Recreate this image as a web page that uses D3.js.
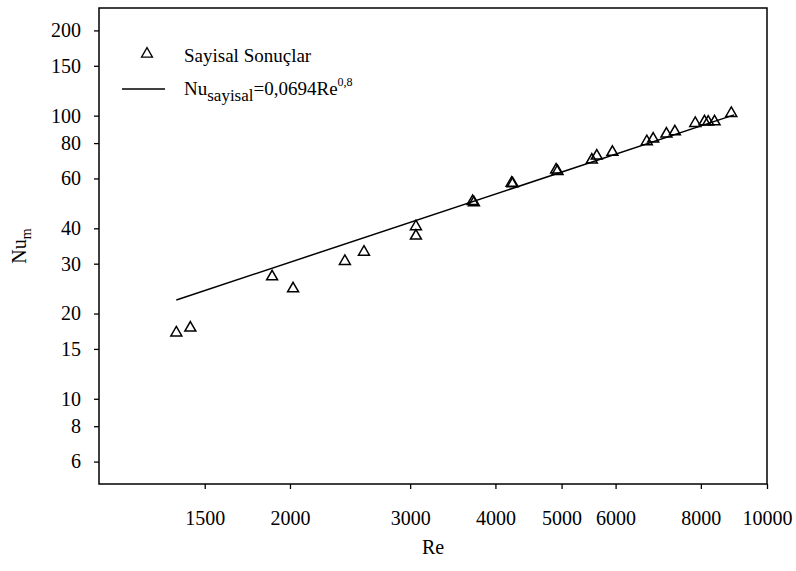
<!DOCTYPE html>
<html>
<head>
<meta charset="utf-8">
<script src="https://cdn.jsdelivr.net/npm/d3@7"></script>
<style>
  body { margin: 0; background: #fff; }
  svg text { font-family: "Liberation Serif", "Times New Roman", "DejaVu Serif", serif !important; fill: #000; }
</style>
</head>
<body>
<svg id="chart" width="796" height="571"></svg>
<script>
// Numerical results: Reynolds number and mean Nusselt number
const reValues = [1363, 1429, 1883, 2021, 2407, 2567, 3059, 3059, 3704, 3720,
                  4225, 4240, 4909, 4932, 5538, 5631, 5936, 6666, 6811, 7123,
                  7328, 7850, 8099, 8200, 8378, 8865];
const nuValues = [17.1, 17.8, 27.0, 24.5, 30.6, 33.0, 40.6, 37.6, 49.8, 49.3,
                  57.8, 57.5, 64.3, 63.6, 69.8, 72.1, 74.3, 81.0, 82.8, 86.2,
                  87.8, 94.0, 95.2, 95.0, 95.2, 102.0];

// Correlation Nu = 0.0694 Re^0.8, drawn over the range of the results
const fitCoef = 0.0694;
const fitExp = 0.8;
const fitRange = [1363, 8950];

const xTicks = [1500, 2000, 3000, 4000, 5000, 6000, 8000, 10000];
const yTicks = [6, 8, 10, 15, 20, 30, 40, 60, 80, 100, 150, 200];
const xDomain = [1050, 10000];
const yDomain = [5, 240];

const svg = d3.select("#chart");
const plot = { left: 99, right: 767, top: 8, bottom: 484 };

const x = d3.scaleLog().domain(xDomain).range([plot.left, plot.right]);
const y = d3.scaleLog().domain(yDomain).range([plot.bottom, plot.top]);

const fontSize = 20;

// Axes
const xAxis = d3.axisBottom(x).tickValues(xTicks).tickFormat(d3.format("d")).tickSizeInner(5).tickSizeOuter(0).tickPadding(22);
const yAxis = d3.axisLeft(y).tickValues(yTicks).tickFormat(d3.format("d")).tickSizeInner(5).tickSizeOuter(0).tickPadding(13);

const gx = svg.append("g").attr("transform", `translate(0,${plot.bottom})`).call(xAxis);
const gy = svg.append("g").attr("transform", `translate(${plot.left},0)`).call(yAxis);
[gx, gy].forEach(g => {
  g.attr("font-family", null);
  g.select(".domain").remove();
  g.selectAll(".tick line").attr("stroke", "#000").attr("stroke-width", 1.3);
  g.selectAll(".tick text").attr("font-size", fontSize).attr("fill", "#000");
});

// Frame
svg.append("rect")
  .attr("x", plot.left).attr("y", plot.top)
  .attr("width", plot.right - plot.left).attr("height", plot.bottom - plot.top)
  .attr("fill", "none").attr("stroke", "#000").attr("stroke-width", 1.5);

// Axis titles
svg.append("text")
  .attr("x", (plot.left + plot.right) / 2).attr("y", 554)
  .attr("text-anchor", "middle").attr("font-size", fontSize).text("Re");

const yl = svg.append("text")
  .attr("transform", `translate(26,${(plot.top + plot.bottom) / 2}) rotate(-90)`)
  .attr("text-anchor", "middle").attr("font-size", fontSize);
yl.append("tspan").text("Nu");
yl.append("tspan").attr("font-size", 14).attr("dy", 5).text("m");

// Correlation line
const fitLine = d3.line().x(d => x(d)).y(d => y(fitCoef * Math.pow(d, fitExp)));
svg.append("path")
  .datum(fitRange)
  .attr("d", fitLine)
  .attr("fill", "none").attr("stroke", "#000").attr("stroke-width", 1.5);

// Result markers
const tri = d3.symbol(d3.symbolTriangle).size(52);
svg.append("g").selectAll("path")
  .data(reValues.map((r, i) => [r, nuValues[i]]))
  .join("path")
  .attr("d", tri)
  .attr("transform", d => `translate(${x(d[0])},${y(d[1])})`)
  .attr("fill", "none").attr("stroke", "#000").attr("stroke-width", 1.5);

// Legend
const legend = svg.append("g");
legend.append("path").attr("d", tri)
  .attr("transform", "translate(147,54)")
  .attr("fill", "none").attr("stroke", "#000").attr("stroke-width", 1.3);
legend.append("text").attr("x", 184).attr("y", 62).attr("font-size", 19).text("Sayisal Sonuçlar");
legend.append("line").attr("x1", 122).attr("x2", 165).attr("y1", 89).attr("y2", 89)
  .attr("stroke", "#000").attr("stroke-width", 1.3);
const lt = legend.append("text").attr("x", 184).attr("y", 95).attr("font-size", 19);
lt.append("tspan").text("Nu");
lt.append("tspan").attr("dy", 6).attr("font-size", 17).text("sayisal");
lt.append("tspan").attr("dy", -6).text("=0,0694Re");
lt.append("tspan").attr("dy", -9).attr("font-size", 12).text("0,8");
</script>
</body>
</html>
